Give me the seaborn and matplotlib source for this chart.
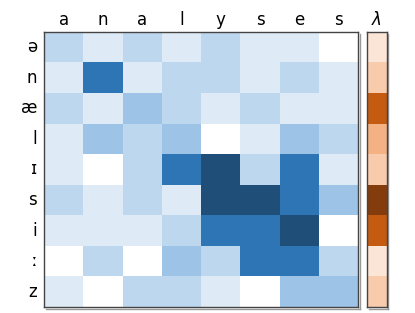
import matplotlib
matplotlib.use("Agg")
import matplotlib.pyplot as plt
import matplotlib.patheffects as pe
from matplotlib.colors import ListedColormap
import seaborn as sns
import numpy as np

# letters of the written word (columns) and phonemes (rows)
letters = ["a", "n", "a", "l", "y", "s", "e", "s"]
phonemes = ["ə", "n", "æ", "l", "ɪ", "s", "i", "ː", "z"]

# attention levels (0 = none ... 5 = strongest), one list per phoneme row
row_schwa = [2, 1, 2, 1, 2, 1, 1, 0]
row_n = [1, 4, 1, 2, 2, 1, 2, 1]
row_ae = [2, 1, 3, 2, 1, 2, 1, 1]
row_l = [1, 3, 2, 3, 0, 1, 3, 2]
row_ih = [1, 0, 2, 4, 5, 2, 4, 1]
row_s = [2, 1, 2, 1, 5, 5, 4, 3]
row_i = [1, 1, 1, 2, 4, 4, 5, 0]
row_long = [0, 2, 0, 3, 2, 4, 4, 2]
row_z = [1, 0, 2, 2, 1, 0, 3, 3]

# lambda level per phoneme (1 ... 5)
lam = [1, 2, 4, 3, 2, 5, 4, 1, 2]

blues = ["#ffffff", "#deebf7", "#bdd7ee", "#9dc3e6", "#2e75b6", "#1f4e79"]
oranges = ["#fbe5d6", "#f8cbad", "#f4b183", "#c55a11", "#843c0c"]

att = np.array([row_schwa, row_n, row_ae, row_l, row_ih,
                row_s, row_i, row_long, row_z])

fig = plt.figure(figsize=(4.15, 3.13), dpi=100)
ax = fig.add_axes([0.106, 0.019, 0.757, 0.879])
ax_l = fig.add_axes([0.884, 0.019, 0.048, 0.879])

sns.heatmap(att, cmap=ListedColormap(blues), vmin=-0.5, vmax=5.5, cbar=False,
            xticklabels=letters, yticklabels=phonemes, ax=ax)
sns.heatmap(np.array(lam).reshape(-1, 1), cmap=ListedColormap(oranges),
            vmin=0.5, vmax=5.5, cbar=False,
            xticklabels=[r"$\lambda$"], yticklabels=False, ax=ax_l)

shadow = [pe.SimpleLineShadow(offset=(1.2, -1.2), shadow_color="#999999", alpha=1),
          pe.Normal()]
for a in (ax, ax_l):
    a.xaxis.tick_top()
    a.tick_params(length=0, labelsize=12)
    a.tick_params(axis="x", pad=2, rotation=0)
    a.tick_params(axis="y", pad=5, rotation=0)
    for side, s in a.spines.items():
        s.set_visible(True)
        s.set_color("#444444")
        s.set_linewidth(1)
        if side in ("right", "bottom"):
            s.set_path_effects(shadow)

fig.savefig("out.png", dpi=100)
